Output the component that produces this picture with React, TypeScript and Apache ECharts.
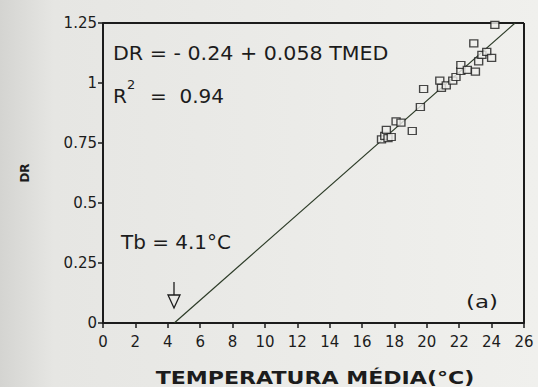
import React, { useEffect, useRef } from "react";
import * as echarts from "echarts";

// Observed points: mean temperature (°C) and development rate DR
const tmed = [17.2, 17.4, 17.6, 17.8, 17.5, 18.1, 18.4, 19.1, 19.6, 19.8, 20.8, 20.9, 21.2, 21.6, 21.8, 22.1, 22.1, 22.5, 23.0, 22.9, 23.2, 23.4, 23.7, 24.0, 24.2];
const dr = [0.765, 0.78, 0.77, 0.775, 0.805, 0.84, 0.835, 0.8, 0.9, 0.975, 1.01, 0.98, 0.99, 1.01, 1.025, 1.05, 1.075, 1.055, 1.047, 1.165, 1.09, 1.117, 1.13, 1.105, 1.242];

// Fitted line as drawn (endpoints)
const lineX = [4.4, 25.45];
const lineY = [0, 1.25];

const xTicks = [0, 26, 2];
const yTicks = [0, 1.25, 0.25];

const xTitle = "TEMPERATURA MÉDIA(°C)";
const yTitle = "DR";

const FONT = "DejaVu Sans";
const INK = "#1c1c1c";

export default function App() {
  const ref = useRef<HTMLDivElement>(null);
  useEffect(() => {
    if (!ref.current) return;
    const chart = echarts.init(ref.current, null, { renderer: "svg" });
    const pts = tmed.map((x, i) => [x, dr[i]]);
    const line = lineX.map((x, i) => [x, lineY[i]]);
    chart.setOption({
      animation: false,
      backgroundColor: {
        type: "linear", x: 0, y: 0, x2: 1, y2: 0,
        colorStops: [
          { offset: 0, color: "#d4d4d1" },
          { offset: 0.1, color: "#e6e6e3" },
          { offset: 1, color: "#f0f0ed" },
        ],
      },
      grid: { left: 103, right: 14, top: 23, bottom: 64 },
      xAxis: {
        type: "value",
        min: xTicks[0], max: xTicks[1], interval: xTicks[2],
        axisLine: { show: true, onZero: false, lineStyle: { color: INK, width: 2 } },
        axisTick: { show: true, length: 5, lineStyle: { color: INK, width: 1.5 } },
        axisLabel: { color: INK, fontFamily: FONT, fontSize: 15, margin: 11 },
        splitLine: { show: false },
      },
      yAxis: {
        type: "value",
        min: yTicks[0], max: yTicks[1], interval: yTicks[2],
        axisLine: { show: true, onZero: false, lineStyle: { color: INK, width: 2 } },
        axisTick: { show: true, length: 5, lineStyle: { color: INK, width: 1.5 } },
        axisLabel: { color: INK, fontFamily: FONT, fontSize: 15, margin: 6 },
        splitLine: { show: false },
        name: yTitle,
        nameLocation: "middle",
        nameGap: 72,
        nameTextStyle: { color: INK, fontFamily: FONT, fontSize: 12, fontWeight: "bold" },
      },
      series: [
        {
          type: "line",
          data: line,
          symbol: "none",
          lineStyle: { color: "#2b3a26", width: 1.2 },
          z: 2,
        },
        {
          type: "scatter",
          data: pts,
          symbol: "rect",
          symbolSize: [8, 7],
          itemStyle: { color: "#efefec", borderColor: INK, borderWidth: 1.3 },
          z: 3,
        },
      ],
      graphic: [
        // top and right frame
        { type: "line", shape: { x1: 103, y1: 23, x2: 524, y2: 23 }, style: { stroke: INK, lineWidth: 2 } },
        { type: "line", shape: { x1: 524, y1: 23, x2: 524, y2: 323 }, style: { stroke: INK, lineWidth: 2 } },
        {
          type: "text", x: 315, y: 378, scaleX: 1.3,
          style: { text: xTitle, fill: INK, font: `bold 17px "${FONT}"`, align: "center", verticalAlign: "middle" },
        },
        { type: "text", x: 113, y: 53, scaleX: 1.03, style: { text: "DR = - 0.24 + 0.058 TMED", fill: INK, font: `20px "${FONT}"`, verticalAlign: "middle" } },
        { type: "text", x: 113, y: 96, style: { text: "R", fill: INK, font: `20px "${FONT}"`, verticalAlign: "middle" } },
        { type: "text", x: 127, y: 84, style: { text: "2", fill: INK, font: `13px "${FONT}"`, verticalAlign: "middle" } },
        { type: "text", x: 150, y: 96, style: { text: "=  0.94", fill: INK, font: `20px "${FONT}"`, verticalAlign: "middle" } },
        { type: "text", x: 121, y: 243, scaleX: 1.05, style: { text: "Tb = 4.1°C", fill: INK, font: `19px "${FONT}"`, verticalAlign: "middle" } },
        { type: "text", x: 466, y: 302, scaleX: 1.35, style: { text: "(a)", fill: INK, font: `17px "${FONT}"`, verticalAlign: "middle" } },
        // arrow to Tb
        { type: "line", shape: { x1: 174, y1: 282, x2: 174, y2: 295 }, style: { stroke: INK, lineWidth: 1.3 } },
        { type: "polygon", shape: { points: [[168, 295], [180, 295], [174, 308]] }, style: { fill: "none", stroke: INK, lineWidth: 1.3 } },
      ],
    });
    return () => chart.dispose();
  }, []);
  return <div ref={ref} style={{ width: 538, height: 387, position: "absolute", left: 0, top: 0 }} />;
}
